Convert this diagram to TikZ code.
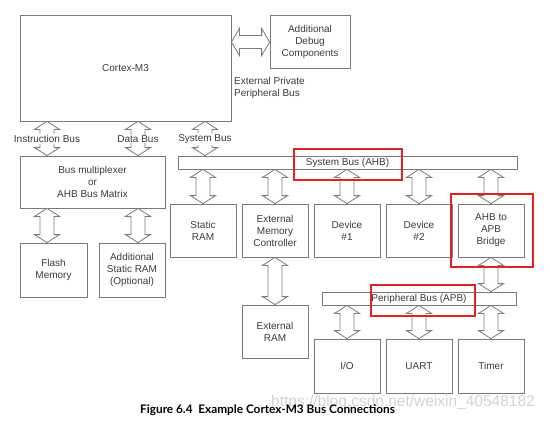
\documentclass[tikz,border=0pt]{standalone}
\usepackage{fontspec}
\setmainfont{Liberation Sans}
\newfontfamily\capfont{Lato}
\usetikzlibrary{calc}
\definecolor{linegray}{HTML}{7A7A7A}
\definecolor{textgray}{HTML}{3A3A3A}
\definecolor{marked}{HTML}{E02424}
\tikzset{
  blk/.style={draw=linegray, line width=0.8bp, inner sep=0pt, align=center, text=textgray},
  bar/.style={blk, minimum height=13bp},
  lbl/.style={fill=white, inner sep=1bp, text=textgray},
  redbox/.style={draw=marked, line width=2bp},
  vbus/.style={draw=linegray, line width=0.8bp, fill=white, line join=miter,
    to path={let \p1=(\tikztostart), \p2=(\tikztotarget) in
      (\x1,\y1) -- (\x1+12.5bp,\y1-8bp) -- (\x1+7bp,\y1-8bp) -- (\x1+7bp,\y2+8bp)
      -- (\x1+12.5bp,\y2+8bp) -- (\x1,\y2) -- (\x1-12.5bp,\y2+8bp) -- (\x1-7bp,\y2+8bp)
      -- (\x1-7bp,\y1-8bp) -- (\x1-12.5bp,\y1-8bp) -- cycle}},
  hbus/.style={draw=linegray, line width=0.8bp, fill=white, line join=miter,
    to path={let \p1=(\tikztostart), \p2=(\tikztotarget) in
      (\x1,\y1) -- (\x1+8bp,\y1+13.5bp) -- (\x1+8bp,\y1+6.5bp) -- (\x2-8bp,\y1+6.5bp)
      -- (\x2-8bp,\y1+13.5bp) -- (\x2,\y1) -- (\x2-8bp,\y1-13.5bp) -- (\x2-8bp,\y1-6.5bp)
      -- (\x1+8bp,\y1-6.5bp) -- (\x1+8bp,\y1-13.5bp) -- cycle}},
}
\begin{document}
\begin{tikzpicture}[x=1bp, y=-1bp]
\fontsize{10bp}{12bp}\selectfont
\useasboundingbox (0,0) rectangle (550,422);
% processor and debug
\node [blk, minimum width=211bp, minimum height=106bp] (cm) at (125.5,68) {Cortex-M3};
\node [blk, minimum width=80bp, minimum height=53bp] (debug) at (310,41.5) {Additional\\Debug\\Components};
\node [anchor=west, align=left, inner sep=0pt, text=textgray] (ppb) at (234,88) {External Private\\Peripheral Bus};
% bus matrix side
\node [blk, minimum width=145bp, minimum height=52bp] (mux) at (92.5,182) {Bus multiplexer\\or\\AHB Bus Matrix};
\node [blk, minimum width=67bp, minimum height=54bp] (flash) at (53.5,270) {Flash\\Memory};
\node [blk, minimum width=66bp, minimum height=54bp] (addram) at (132,270) {Additional\\Static RAM\\(Optional)};
% system bus
\node [bar, minimum width=339bp] (sysbus) at (347.5,162.5) {System Bus (AHB)};
\node [blk, minimum width=66bp, minimum height=53bp] (sram) at (203,230.5) {Static\\RAM};
\node [blk, minimum width=66bp, minimum height=53bp] (emc) at (275,230.5) {External\\Memory\\Controller};
\node [blk, minimum width=66bp, minimum height=53bp] (dev1) at (347,230.5) {Device\\\#1};
\node [blk, minimum width=66bp, minimum height=53bp] (dev2) at (419,230.5) {Device\\\#2};
\node [blk, minimum width=66bp, minimum height=53bp] (bridge) at (491,230.5) {AHB to\\APB\\Bridge};
\node [blk, minimum width=66bp, minimum height=53bp] (extram) at (275,331.5) {External\\RAM};
% peripheral bus
\node [bar, minimum width=194bp] (peribus) at (419,298.5) {Peripheral Bus (APB)};
\node [blk, minimum width=66bp, minimum height=54bp] (io) at (347,366) {I/O};
\node [blk, minimum width=66bp, minimum height=54bp] (uart) at (419,366) {UART};
\node [blk, minimum width=66bp, minimum height=54bp] (timer) at (491,366) {Timer};
% bus arrows
\coordinate (ibx) at (47,0);
\coordinate (dbx) at (138,0);
\coordinate (sbx) at (205,0);
\coordinate (dbgy) at (0,42);
\draw [hbus] (cm.east |- dbgy) to (debug.west |- dbgy);
\draw [vbus] (ibx |- cm.south) to (ibx |- mux.north);
\draw [vbus] (dbx |- cm.south) to (dbx |- mux.north);
\draw [vbus] (sbx |- cm.south) to (sbx |- sysbus.north);
\draw [vbus] (ibx |- mux.south) to (ibx |- flash.north);
\draw [vbus] (dbx |- mux.south) to (dbx |- addram.north);
\foreach \b in {sram,emc,dev1,dev2,bridge}
  \draw [vbus] (\b.north |- sysbus.south) to (\b.north);
\draw [vbus] (emc.south) to (extram.north);
\draw [vbus] (bridge.south) to (bridge.south |- peribus.north);
\foreach \b in {io,uart,timer}
  \draw [vbus] (\b.north |- peribus.south) to (\b.north);
\node [lbl] (iblbl) at (47,139) {Instruction Bus};
\node [lbl] (dblbl) at (138,139) {Data Bus};
\node [lbl] (sblbl) at (205,139) {System Bus};
% highlights
\draw [redbox] (294,149) rectangle (402,180);
\draw [redbox] (451,194) rectangle (533,267);
\draw [redbox] (371,285) rectangle (475,316);
% caption
\node [text=gray!35, font=\fontsize{15.5bp}{15.5bp}\selectfont, inner sep=0pt] (wm) at (403,402) {https://blog.csdn.net/weixin\_40548182};
\node [anchor=west, inner sep=0pt, font=\capfont\bfseries\fontsize{11.8bp}{11.8bp}\selectfont] (cap) at (140,410) {Figure 6.4\ \ Example Cortex-M3 Bus Connections};
\end{tikzpicture}
\end{document}
